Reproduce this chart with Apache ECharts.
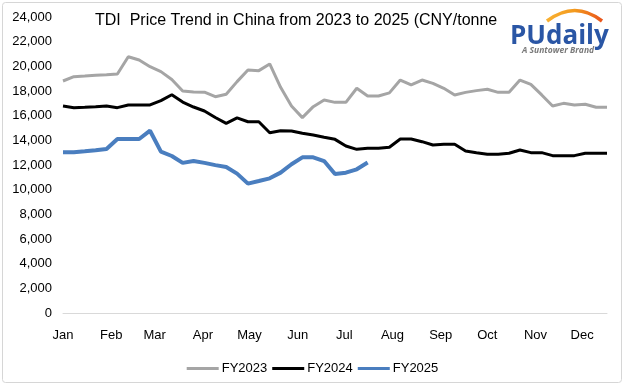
<!DOCTYPE html>
<html>
<head>
<meta charset="utf-8">
<script src="https://cdn.jsdelivr.net/npm/echarts@6/dist/echarts.min.js"></script>
<style>
html,body{margin:0;padding:0;background:#fff;}
#chart{width:625px;height:386px;}
</style>
</head>
<body>
<div id="chart"></div>
<script>
// Day-of-year positions of weekly observations
const days = [0,7,14,21,28,35,42,49,56,63,70,77,84,91,98,105,112,119,126,133,140,147,154,161,168,175,182,189,196,203,210,217,224,231,238,245,252,259,266,273,280,287,294,301,308,315,322,329,336,343,350];
const fy2023 = [18810,19160,19210,19270,19320,19380,20780,20510,19970,19570,18930,18000,17920,17900,17540,17730,18760,19700,19650,20190,18300,16780,15840,16730,17270,17080,17080,18220,17590,17590,17850,18890,18490,18890,18620,18220,17680,17890,18030,18140,17890,17890,18890,18540,17680,16780,17000,16870,16920,16680,16680];
const fy2024 = [16780,16650,16680,16720,16780,16650,16870,16870,16870,17220,17700,17100,16700,16380,15850,15380,15820,15510,15510,14620,14780,14760,14570,14430,14250,14080,13540,13270,13350,13350,13440,14110,14110,13890,13620,13680,13680,13140,13000,12870,12870,12950,13220,13000,13000,12760,12760,12760,12950,12950,12950];
const fy2025 = [13030,13030,13110,13200,13300,14110,14110,14110,14780,13080,12730,12170,12330,12170,11990,11840,11300,10490,10700,10920,11380,12060,12620,12620,12320,11270,11380,11650,12200];
const monthStarts = [0,31,59,90,120,151,181,212,243,273,304,334];
const monthNames = ['Jan','Feb','Mar','Apr','May','Jun','Jul','Aug','Sep','Oct','Nov','Dec'];
const seriesNames = ['FY2023','FY2024','FY2025'];
const titleText = 'TDI  Price Trend in China from 2023 to 2025 (CNY/tonne';

function pairs(vals){ return vals.map((v,i)=>[days[i], v]); }

const FONT = '"Liberation Sans", Arial, sans-serif';
const chart = echarts.init(document.getElementById('chart'), null, {renderer:'canvas'});
chart.setOption({
  animation:false,
  backgroundColor:'#ffffff',
  textStyle:{fontFamily:FONT},
  grid:{left:63, right:18, top:17, bottom:73, containLabel:false},
  xAxis:{
    type:'value', min:0, max:350,
    splitLine:{show:false},
    axisLine:{show:true, lineStyle:{color:'#d9d9d9', width:1}},
    axisTick:{show:false},
    axisLabel:{
      customValues:monthStarts,
      formatter:function(v){ const i = monthStarts.indexOf(v); return i>=0 ? monthNames[i] : ''; },
      color:'#000', fontSize:13, fontFamily:FONT, margin:16
    }
  },
  yAxis:{
    type:'value', min:0, max:24000, interval:2000,
    splitLine:{show:false},
    axisLine:{show:false}, axisTick:{show:false},
    axisLabel:{
      formatter:function(v){ return v.toLocaleString('en-US'); },
      color:'#000', fontSize:13, fontFamily:FONT, margin:11
    }
  },
  legend:{
    data:seriesNames, bottom:6, left:'center', icon:'rect',
    itemWidth:32, itemHeight:3, itemGap:5,
    textStyle:{color:'#000', fontSize:13, fontFamily:FONT, padding:[0,0,0,-2]}
  },
  series:[
    {name:seriesNames[0], type:'line', data:pairs(fy2023), symbol:'none', lineStyle:{color:'#a5a5a5', width:3}, itemStyle:{color:'#a5a5a5'}},
    {name:seriesNames[1], type:'line', data:pairs(fy2024), symbol:'none', lineStyle:{color:'#000000', width:3}, itemStyle:{color:'#000000'}},
    {name:seriesNames[2], type:'line', data:pairs(fy2025), symbol:'none', lineStyle:{color:'#4a7ebf', width:4}, itemStyle:{color:'#4a7ebf'}}
  ],
  graphic:[
    {type:'rect', shape:{x:2.5, y:2.5, width:619, height:380, r:3}, style:{fill:'none', stroke:'#d6d6d6', lineWidth:1}, z:-1},
    {type:'text', left:95, top:13, style:{text:titleText, fontSize:16, fontFamily:FONT, fill:'#000'}},
    {type:'bezierCurve', shape:{x1:547, y1:21, cpx1:575, cpy1:0, x2:602, y2:21},
      style:{stroke:new echarts.graphic.LinearGradient(0,0,1,0,[{offset:0,color:'#f9b233'},{offset:0.5,color:'#f39a1e'},{offset:1,color:'#e84e1b'}]), lineWidth:3.5, fill:'none'}},
    {type:'text', x:510, y:24, style:{text:'PUdaily', fontSize:26, fontWeight:'bold', fontFamily:'"Open Sans", "Liberation Sans", sans-serif', fill:'#2a56a5'}},
    {type:'text', x:522, y:46, style:{text:'A Suntower Brand', fontSize:8.5, fontWeight:'bold', fontStyle:'italic', fontFamily:'"Open Sans", "Liberation Sans", sans-serif', fill:'#7a7a7a'}}
  ]
});
</script>
</body>
</html>
